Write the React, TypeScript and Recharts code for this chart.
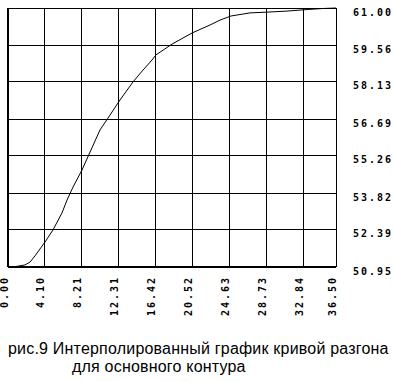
import React from "react";
import { LineChart, Line, XAxis, YAxis, CartesianGrid, ReferenceLine } from "recharts";

// time axis and the response level
const time = [
  0, 0.56, 1.89, 2.45, 3.0, 4.12, 5.01, 6.01, 6.57, 7.23, 8.23, 9.13, 10.24,
  11.13, 12.46, 13.91, 15.02, 16.02, 16.47, 18.25, 20.48, 22.48, 23.59, 24.82,
  26.93, 28.82, 31.05, 33.27, 35.05, 36.5,
];
const level = [
  50.95, 50.95, 51.03, 51.14, 51.38, 51.92, 52.39, 53.05, 53.55, 54.05, 54.71,
  55.41, 56.27, 56.73, 57.43, 58.13, 58.59, 58.98, 59.18, 59.6, 60.03, 60.34,
  60.53, 60.69, 60.81, 60.84, 60.88, 60.94, 60.98, 61.0,
];

const xTicks = [0, 4.1, 8.21, 12.31, 16.42, 20.52, 24.63, 28.73, 32.84, 36.5];
const yTicks = [50.95, 52.39, 53.82, 55.26, 56.69, 58.13, 59.56, 61.0];

const caption1 = "рис.9 Интерполированный график кривой разгона";
const caption2 = "для основного контура";

const rows = time.map((t, i) => ({ t, v: level[i] }));

const tickFont = {
  fontFamily: "'DejaVu Sans Mono', monospace",
  fontSize: 10,
  fontWeight: 700,
  letterSpacing: 2,
  fill: "#000",
};

const XTick = (props: any) => {
  const { x, y, payload } = props;
  const tx = x - 4;
  return (
    <text
      x={tx}
      y={y}
      transform={`rotate(-90 ${tx} ${y})`}
      textAnchor="end"
      dominantBaseline="central"
      {...tickFont}
    >
      {Number(payload.value).toFixed(2)}
    </text>
  );
};

const YTick = (props: any) => {
  const { x, y, payload } = props;
  return (
    <text x={x} y={y + 4} textAnchor="start" dominantBaseline="central" {...tickFont}>
      {Number(payload.value).toFixed(2)}
    </text>
  );
};

const captionStyle: React.CSSProperties = {
  position: "absolute",
  fontFamily: "'Liberation Sans', Arial, sans-serif",
  fontSize: 16,
  letterSpacing: 0.2,
  lineHeight: "18px",
  color: "#000",
  whiteSpace: "nowrap",
};

export default function App() {
  return (
    <div
      style={{
        position: "absolute",
        left: 0,
        top: 0,
        width: 393,
        height: 382,
        background: "#fff",
      }}
    >
      <LineChart
        width={393}
        height={330}
        data={rows}
        margin={{ top: 8, right: 0, bottom: 0, left: 8 }}
      >
        <CartesianGrid stroke="#000" strokeWidth={1} shapeRendering="crispEdges" />
        <XAxis
          type="number"
          dataKey="t"
          domain={[0, 36.5]}
          ticks={xTicks}
          interval={0}
          height={63}
          axisLine={false}
          tickLine={false}
          tickSize={0}
          tickMargin={9}
          tick={<XTick />}
        />
        <YAxis
          type="number"
          orientation="right"
          domain={[50.95, 61]}
          ticks={yTicks}
          interval={0}
          width={57}
          axisLine={false}
          tickLine={false}
          tickSize={0}
          tickMargin={17}
          tick={<YTick />}
        />
        <ReferenceLine x={0} stroke="#000" strokeWidth={2} shapeRendering="crispEdges" />
        <ReferenceLine y={50.95} stroke="#000" strokeWidth={2} shapeRendering="crispEdges" />
        <Line
          type="linear"
          dataKey="v"
          stroke="#000"
          strokeWidth={1}
          dot={false}
          isAnimationActive={false}
        />
      </LineChart>
      <div style={{ ...captionStyle, left: 8, top: 340 }}>{caption1}</div>
      <div style={{ ...captionStyle, left: 72, top: 358 }}>{caption2}</div>
    </div>
  );
}
